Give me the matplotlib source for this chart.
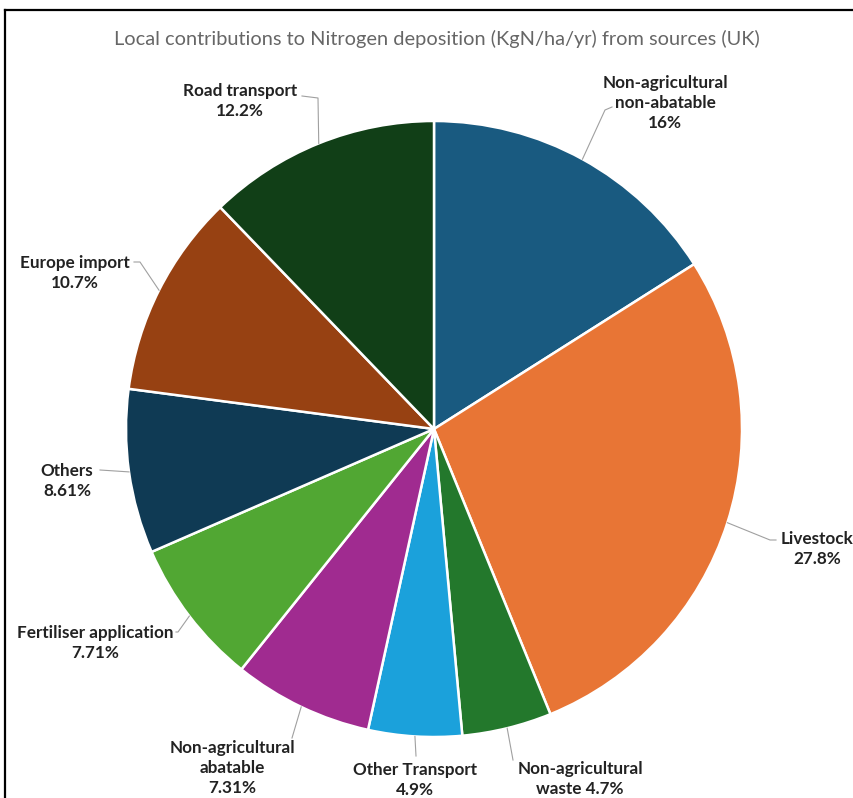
import numpy as np
import matplotlib.pyplot as plt
from matplotlib.lines import Line2D

W, H = 854, 798

sources = ["Non-agricultural\nnon-abatable\n{}", "Livestock\n{}", "Non-agricultural\nwaste {}",
           "Other Transport\n{}", "Non-agricultural\nabatable\n{}", "Fertiliser application\n{}",
           "Others\n{}", "Europe import\n{}", "Road transport\n{}"]
shares = [16, 27.8, 4.7, 4.9, 7.31, 7.71, 8.61, 10.7, 12.2]
colors = ["#195a80", "#e87535", "#23782c", "#1ba1db", "#a02b90", "#51a733",
          "#0f3a54", "#974112", "#113f17"]

# label block centres and leader elbows, in pixels from the top-left corner
label_xy = [(665, 103), (817, 549), (580, 779), (415, 780), (232, 768), (95, 643),
            (67, 481), (75, 273), (240, 101)]
elbows = [[(605, 110), (612, 107)], [(770, 540), (776, 540)], [(513, 760)], [(416, 756)],
          [(292, 738)], [(178, 632), (176, 632)], [(100, 470)], [(140, 262), (134, 262)],
          [(318, 98), (302, 96)]]

cx, cy, r = 434, 429, 308

fig = plt.figure(figsize=(W / 100, H / 100), dpi=100)
ax = fig.add_axes([0, 0, 1, 1])

wedges, _ = ax.pie(shares, colors=colors, startangle=90, counterclock=False,
                   center=(cx, H - cy), radius=r,
                   wedgeprops=dict(edgecolor="white", linewidth=1.8))
ax.set_xlim(0, W)
ax.set_ylim(0, H)
ax.axis("off")

total = sum(shares)
start = 0
for name, v, (tx, ty), pts in zip(sources, shares, label_xy, elbows):
    mid = np.radians((start + v / 2) / total * 360)
    start += v
    ex, ey = cx + r * np.sin(mid), cy - r * np.cos(mid)
    xs = [ex] + [p[0] for p in pts]
    ys = [ey] + [p[1] for p in pts]
    ax.plot(xs, [H - y for y in ys], color="#a0a0a0", lw=0.8)
    ax.text(tx, H - ty, name.format(f"{v:g}%"), ha="center", va="center",
            fontsize=12.3, fontweight="bold", family="Lato", color="#222222",
            linespacing=1.3)

ax.text(437, H - 39, "Local contributions to Nitrogen deposition (KgN/ha/yr) from sources (UK)",
        ha="center", va="center", fontsize=14.4, family="Lato", color="#666666")

# frame lines along the top and left edges
fig.add_artist(Line2D([5 / W, 1], [1 - 10 / H, 1 - 10 / H], color="black", lw=1.6))
fig.add_artist(Line2D([5 / W, 5 / W], [0, 1 - 10 / H], color="black", lw=1.6))

fig.savefig("out.png", dpi=100)
